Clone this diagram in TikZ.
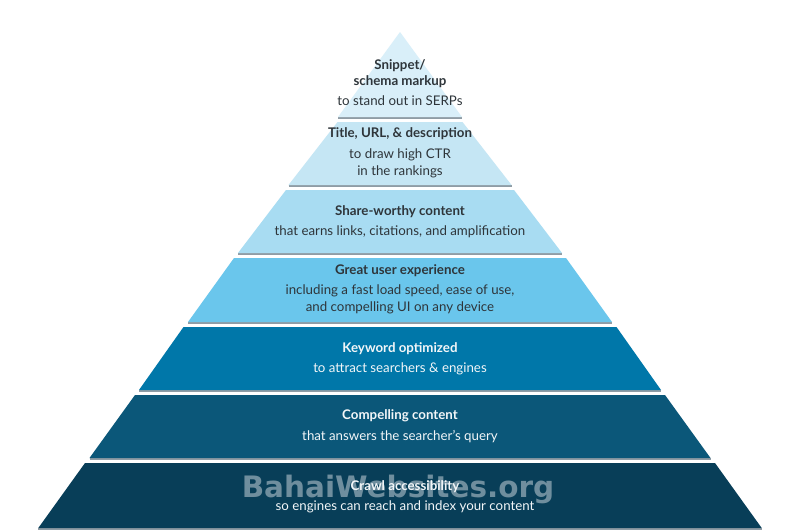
\documentclass[tikz,border=0pt]{standalone}
\usepackage{fontspec}
\setmainfont{Lato}
\newfontfamily\wmfont{DejaVu Sans}
\definecolor{cA}{HTML}{D9EFF9}
\definecolor{cB}{HTML}{C5E6F4}
\definecolor{cC}{HTML}{A8DCF2}
\definecolor{cD}{HTML}{6AC6EC}
\definecolor{cE}{HTML}{0077A9}
\definecolor{cF}{HTML}{0B5779}
\definecolor{cG}{HTML}{083E58}
\definecolor{darktext}{HTML}{2E353A}
\definecolor{lighttext}{HTML}{F2F6F8}
\definecolor{shadowc}{HTML}{8F9CA5}
\tikzset{
  layer/.style={fill=#1, draw=none},
  shadowline/.style={draw=shadowc, line width=1.2pt},
  lbl/.style={align=center, inner sep=0pt, font=\fontsize{13.3}{16.5}\selectfont},
  lbldark/.style={lbl, text=darktext},
  lbllight/.style={lbl, text=lighttext},
  watermark/.style={font=\wmfont\bfseries\fontsize{29.5}{32}\selectfont, text=white, text opacity=0.42, inner sep=0pt}
}
\begin{document}
\begin{tikzpicture}[x=1pt,y=-1pt]
\path[use as bounding box, fill=white] (0,0) rectangle (800,531);
% shadows
\draw[shadowline] (338,118) -- (462,118);
\draw[shadowline] (288.5,186) -- (511.5,186);
\draw[shadowline] (238,254) -- (562,254);
\draw[shadowline] (188,323) -- (612,323);
\draw[shadowline] (139,391) -- (661,391);
\draw[shadowline] (89.5,459) -- (710.5,459);
\draw[shadowline] (38.3,529) -- (761.7,529);
% layers
\fill[layer=cA] (400,32) -- (462,117) -- (338,117) -- cycle;
\fill[layer=cB] (337.5,122) -- (462.5,122) -- (511.5,185) -- (288.5,185) -- cycle;
\fill[layer=cC] (286,190) -- (514,190) -- (562,253) -- (238,253) -- cycle;
\fill[layer=cD] (234,258) -- (566,258) -- (612,322) -- (188,322) -- cycle;
\fill[layer=cE] (183.5,327) -- (616.5,327) -- (661,390) -- (139,390) -- cycle;
\fill[layer=cF] (135,395) -- (665,395) -- (710.5,458) -- (89.5,458) -- cycle;
\fill[layer=cG] (85,463) -- (715,463) -- (761.7,528) -- (38.3,528) -- cycle;
% watermark
\node[watermark] (wm) at (398,489) {BahaiWebsites.org};
% labels
\node[lbldark] (t1) at (400,82.5) {\textbf{Snippet/}\\\textbf{schema markup}\\[3.5pt]to stand out in SERPs};
\node[lbldark] (t2) at (400,153) {\textbf{Title, URL, \& description}\\[4.5pt]to draw high CTR\\in the rankings};
\node[lbldark] (t3) at (400,221.7) {\textbf{Share-worthy content}\\[3.5pt]that earns links, citations, and amplification};
\node[lbldark] (t4) at (400,289.3) {\textbf{Great user experience}\\[3.5pt]including a fast load speed, ease of use,\\and compelling UI on any device};
\node[lbllight] (t5) at (400,358.3) {\textbf{Keyword optimized}\\[3.5pt]to attract searchers \& engines};
\node[lbllight] (t6) at (400,426.3) {\textbf{Compelling content}\\[4pt]that answers the searcher's query};
\node[lbllight] (t7) at (405,496.7) {\textbf{Crawl accessibility}\\[3.5pt]so engines can reach and index your content};
\end{tikzpicture}
\end{document}
